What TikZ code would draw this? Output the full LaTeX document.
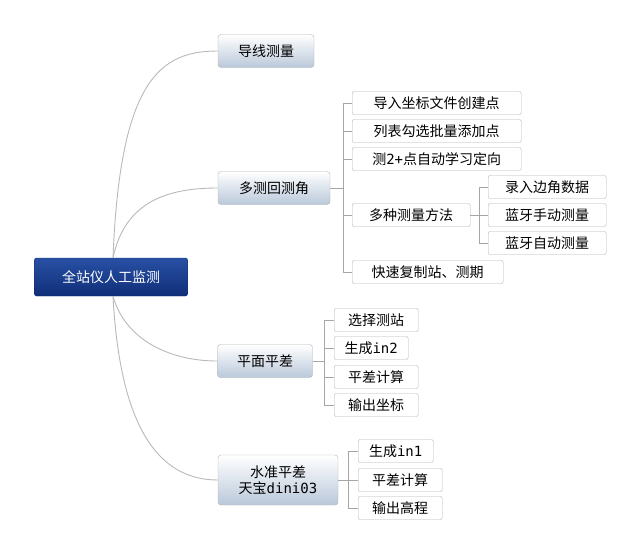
\documentclass[tikz,border=0pt]{standalone}
\usepackage{fontspec}
\setmainfont{Noto Sans CJK SC}
\setmonofont{DejaVu Sans Mono}
\usetikzlibrary{positioning}
\definecolor{rootdark}{RGB}{16,46,120}
\definecolor{roottop}{RGB}{40,80,165}
\definecolor{mainbot}{RGB}{186,200,218}
\tikzset{
  rootbox/.style={draw=rootdark, rounded corners=2pt, top color=roottop, bottom color=rootdark,
    text=white, minimum width=153pt, minimum height=38pt, font=\fontsize{14}{16}\selectfont},
  mainbox/.style={draw=gray!60, rounded corners=3pt, top color=white, bottom color=mainbot,
    minimum height=33pt, inner xsep=6pt, font=\fontsize{14}{16}\selectfont, align=center},
  leafbox/.style={draw=gray!60, rounded corners=2pt, fill=white, minimum height=23pt,
    inner xsep=4pt, font=\fontsize{14}{16}\selectfont, anchor=west},
  branch/.style={draw=gray!55, line width=0.9pt},
  tie/.style={draw=gray!70, line width=0.6pt}
}
\begin{document}
\begin{tikzpicture}[x=1pt,y=-1pt]
  \useasboundingbox (0,0) rectangle (643,555);
  % root and first level
  \node[rootbox] (root) at (111,277) {全站仪人工监测};
  \node[mainbox, minimum width=96pt] (dx)  at (266,51)  {导线测量};
  \node[mainbox, minimum width=112pt] (dc) at (274,188) {多测回测角};
  \node[mainbox, minimum width=95pt] (pm)  at (265,361) {平面平差};
  \node[mainbox, minimum width=120pt, minimum height=50pt, inner ysep=1pt] (sz) at (278,480) {水准平差\\天宝\texttt{dini03}};

  \draw[branch] (113,258) .. controls (120,80) and (160,51) .. (dx.west);
  \draw[branch] (113,258) .. controls (125,200) and (170,188) .. (dc.west);
  \draw[branch] (113,296) .. controls (125,340) and (170,361) .. (pm.west);
  \draw[branch] (113,296) .. controls (120,430) and (160,480) .. (sz.west);

  % 多测回测角
  \node[leafbox, minimum width=169pt] (c1) at (352,103) {导入坐标文件创建点};
  \node[leafbox, minimum width=169pt] (c2) at (352,131) {列表勾选批量添加点};
  \node[leafbox, minimum width=169pt] (c3) at (352,159) {测\texttt{2+}点自动学习定向};
  \node[leafbox, minimum width=118pt] (c4) at (352,215) {多种测量方法};
  \node[leafbox, minimum width=151pt] (c5) at (352,272) {快速复制站、测期};
  \draw[tie] (dc.east) -- (343,188);
  \draw[tie] (343,103) -- (343,272);
  \foreach \n in {c1,c2,c3,c4,c5} \draw[tie] (343,0 |- \n.west) -- (\n.west);

  \node[leafbox, minimum width=118pt] (m1) at (488,187) {录入边角数据};
  \node[leafbox, minimum width=118pt] (m2) at (488,215) {蓝牙手动测量};
  \node[leafbox, minimum width=118pt] (m3) at (488,243) {蓝牙自动测量};
  \draw[tie] (c4.east) -- (479,215);
  \draw[tie] (479,187) -- (479,243);
  \foreach \n in {m1,m2,m3} \draw[tie] (479,0 |- \n.west) -- (\n.west);

  % 平面平差
  \node[leafbox, minimum width=84pt] (p1) at (334,320) {选择测站};
  \node[leafbox, minimum width=74pt] (p2) at (334,348) {生成\texttt{in2}};
  \node[leafbox, minimum width=84pt] (p3) at (334,377) {平差计算};
  \node[leafbox, minimum width=84pt] (p4) at (334,405) {输出坐标};
  \draw[tie] (pm.east) -- (324,361);
  \draw[tie] (324,320) -- (324,405);
  \foreach \n in {p1,p2,p3,p4} \draw[tie] (324,0 |- \n.west) -- (\n.west);

  % 水准平差
  \node[leafbox, minimum width=75pt] (s1) at (358,451) {生成\texttt{in1}};
  \node[leafbox, minimum width=84pt] (s2) at (358,480) {平差计算};
  \node[leafbox, minimum width=84pt] (s3) at (358,508) {输出高程};
  \draw[tie] (sz.east) -- (348,480);
  \draw[tie] (348,451) -- (348,508);
  \foreach \n in {s1,s2,s3} \draw[tie] (348,0 |- \n.west) -- (\n.west);
\end{tikzpicture}
\end{document}
